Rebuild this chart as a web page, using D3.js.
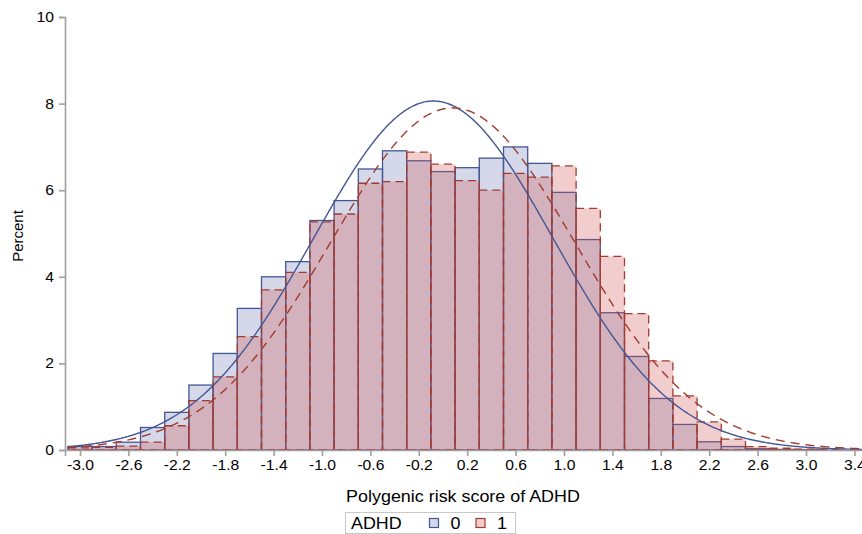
<!DOCTYPE html>
<html>
<head>
<meta charset="utf-8">
<script src="https://cdn.jsdelivr.net/npm/d3@7"></script>
<style>
  body { margin: 0; background: #fff; }
  svg { font-family: Arial, "Liberation Sans", sans-serif; display: block; }
</style>
</head>
<body>
<div id="chart"></div>
<script>
(function () {
    // bin midpoints (bin width 0.2)
    var binMids = [-3.0, -2.8, -2.6, -2.4, -2.2, -2.0, -1.8, -1.6, -1.4, -1.2,
        -1.0, -0.8, -0.6, -0.4, -0.2, 0.0, 0.2, 0.4, 0.6, 0.8,
        1.0, 1.2, 1.4, 1.6, 1.8, 2.0, 2.2, 2.4, 2.6, 2.8, 3.0, 3.2];
    // percent per bin, ADHD = 0
    var pctAdhd0 = [0.08, 0.08, 0.18, 0.52, 0.87, 1.50, 2.23, 3.27, 4.00, 4.35,
        5.30, 5.76, 6.49, 6.91, 6.68, 6.43, 6.52, 6.74, 7.00, 6.62,
        5.95, 4.86, 3.17, 2.16, 1.19, 0.59, 0.19, 0.08, 0.03, 0.01, 0.01, 0];
    // percent per bin, ADHD = 1
    var pctAdhd1 = [0.05, 0.06, 0.09, 0.18, 0.56, 1.14, 1.69, 2.62, 3.70, 4.10,
        5.27, 5.45, 6.16, 6.20, 6.88, 6.60, 6.22, 6.00, 6.39, 6.30,
        6.56, 5.58, 4.47, 3.15, 2.06, 1.25, 0.65, 0.25, 0.08, 0.04, 0.02, 0.01];
    // fitted normal curves
    var groups = ["0", "1"];
    var fitMeans = [-0.08, 0.08];
    var fitSds = [0.99, 1.01];
    var xTicks = [-3.0, -2.6, -2.2, -1.8, -1.4, -1.0, -0.6, -0.2, 0.2, 0.6, 1.0, 1.4, 1.8, 2.2, 2.6, 3.0, 3.4];
    var yTicks = [0, 2, 4, 6, 8, 10];
    var binWidth = 0.2;

    var width = 862, height = 534;
    var stretch = 1.12;   // the original lettering is a bit wider than Arial

    var fillCol = ["#6F7EB3", "#D05B5B"];
    var lineCol = ["#445694", "#A23A2E"];

    var svg = d3.select("#chart").append("svg")
        .attr("width", width)
        .attr("height", height);

    var x = d3.scaleLinear().domain([-3.124, 3.529]).range([65, 870]);
    var y = d3.scaleLinear().domain([0, 10]).range([450, 17]);

    var plot = svg.append("g");

    var series = [pctAdhd0, pctAdhd1];

    series.forEach(function (vals, i) {
        var bars = binMids.map(function (m, j) { return { mid: m, v: vals[j] }; })
            .filter(function (d) { return d.v > 0; });
        plot.append("g").selectAll("rect")
            .data(bars)
            .enter().append("rect")
            .attr("x", function (d) { return x(d.mid - binWidth / 2); })
            .attr("width", function (d) { return x(d.mid + binWidth / 2) - x(d.mid - binWidth / 2); })
            .attr("y", function (d) { return y(d.v); })
            .attr("height", function (d) { return y(0) - y(d.v); })
            .attr("fill", fillCol[i])
            .attr("fill-opacity", 0.3)
            .attr("stroke", lineCol[i])
            .attr("stroke-width", 1.3)
            .attr("stroke-dasharray", i === 1 ? "8,5" : null);
    });

    // normal density curves, scaled to percent per bin
    groups.forEach(function (g, i) {
        var pts = d3.range(-3.1, 3.6, 0.01).map(function (v) {
            var z = (v - fitMeans[i]) / fitSds[i];
            var p = 100 * binWidth / (fitSds[i] * Math.sqrt(2 * Math.PI)) * Math.exp(-0.5 * z * z);
            return [v, p];
        });
        plot.append("path")
            .datum(pts)
            .attr("fill", "none")
            .attr("stroke", lineCol[i])
            .attr("stroke-width", 1.4)
            .attr("stroke-dasharray", i === 1 ? "9,6" : null)
            .attr("d", d3.line().x(function (d) { return x(d[0]); }).y(function (d) { return y(d[1]); }));
    });

    // axes
    var xAxis = svg.append("g")
        .attr("transform", "translate(0,450)")
        .call(d3.axisBottom(x).tickValues(xTicks).tickSizeOuter(0).tickSize(6).tickPadding(4)
            .tickFormat(d3.format(".1f")));
    var yAxis = svg.append("g")
        .attr("transform", "translate(65,0)")
        .call(d3.axisLeft(y).tickValues(yTicks).tickSizeOuter(0).tickSize(6).tickPadding(5));

    [xAxis, yAxis].forEach(function (a) {
        a.select(".domain").attr("stroke", "#a0a0a0").attr("stroke-width", 1.6);
        a.selectAll(".tick line").attr("stroke", "#a0a0a0").attr("stroke-width", 1.6);
        a.selectAll(".tick text").attr("fill", "#000").style("font-size", "14px")
            .attr("transform", "scale(" + stretch + ",1)");
    });
    xAxis.selectAll(".tick text").text(function (d) { return d3.format(".1f")(d).replace("−", "-"); });
    yAxis.selectAll(".tick text").attr("x", -11 / stretch);

    svg.append("text")
        .attr("transform", "translate(463,502) scale(" + stretch + ",1)")
        .attr("text-anchor", "middle")
        .style("font-size", "16px")
        .text("Polygenic risk score of ADHD");

    svg.append("text")
        .attr("transform", "translate(23,236) rotate(-90)")
        .attr("text-anchor", "middle")
        .style("font-size", "15px")
        .text("Percent");

    // legend
    var leg = svg.append("g");
    leg.append("rect")
        .attr("x", 345.5).attr("y", 512.5)
        .attr("width", 170).attr("height", 21)
        .attr("fill", "#fff").attr("stroke", "#c8c8c8");
    leg.append("text")
        .attr("transform", "translate(351,529) scale(" + stretch + ",1)")
        .style("font-size", "16px")
        .text("ADHD");
    var legX = [429.5, 476];
    groups.forEach(function (g, i) {
        leg.append("rect")
            .attr("x", legX[i]).attr("y", 518.5)
            .attr("width", 9).attr("height", 9)
            .attr("fill", fillCol[i]).attr("fill-opacity", 0.3)
            .attr("stroke", lineCol[i]).attr("stroke-width", 1.2);
        leg.append("text")
            .attr("transform", "translate(" + (legX[i] + 21) + ",529) scale(" + stretch + ",1)")
            .style("font-size", "16px")
            .text(g);
    });
})();
</script>
</body>
</html>
